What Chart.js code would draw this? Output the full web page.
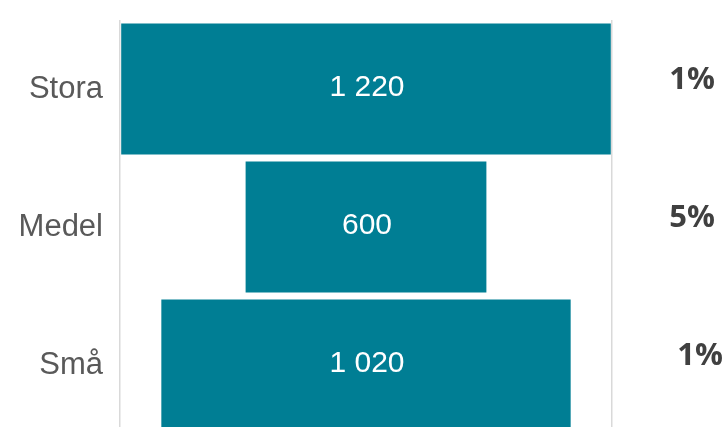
<!DOCTYPE html>
<html>
<head>
<meta charset="utf-8">
<script src="https://cdn.jsdelivr.net/npm/chart.js@4"></script>
<style>
html,body{margin:0;padding:0;overflow:hidden;background:#fff;}
canvas{display:block;}
</style>
</head>
<body>
<canvas id="c" width="726" height="440"></canvas>
<script>
const categories = ['Stora', 'Medel', 'Små'];
const values = [1220, 600, 1020];
const shares = ['1%', '5%', '1%'];
const axisLimit = 613;

const fmt = v => String(v).replace(/\B(?=(\d{3})+(?!\d))/g, ' ');

const labelPlugin = {
  id: 'labels',
  afterDatasetsDraw(chart) {
    const ctx = chart.ctx;
    const meta = chart.getDatasetMeta(0);
    const xs = chart.scales.x, ys = chart.scales.y;
    ctx.save();
    ctx.textAlign = 'center';
    ctx.textBaseline = 'middle';
    ctx.fillStyle = '#ffffff';
    ctx.font = '30px "Liberation Sans", Arial, sans-serif';
    meta.data.forEach((bar, i) => {
      ctx.fillText(fmt(values[i]), xs.getPixelForValue(0) + 1, ys.getPixelForValue(i) - 1);
    });
    ctx.fillStyle = '#404040';
    ctx.font = 'bold 31px "Open Sans", Lato, sans-serif';
    const dx = [80, 80, 88];
    shares.forEach((s, i) => {
      ctx.fillText(s, chart.chartArea.right + dx[i], ys.getPixelForValue(i) - 9);
    });
    ctx.restore();
  }
};

new Chart(document.getElementById('c'), {
  type: 'bar',
  data: {
    labels: categories,
    datasets: [{
      data: values.map(v => [-v / 2, v / 2]),
      backgroundColor: '#007e94',
      borderWidth: 0,
      categoryPercentage: 1,
      barPercentage: 0.95
    }]
  },
  options: {
    indexAxis: 'y',
    responsive: false,
    animation: false,
    layout: { padding: { top: 20, right: 114, bottom: 6, left: 0 } },
    plugins: { legend: { display: false }, tooltip: { enabled: false } },
    scales: {
      x: {
        min: -axisLimit, max: axisLimit,
        afterBuildTicks: s => { s.ticks = [{ value: -axisLimit }, { value: axisLimit }]; },
        ticks: { display: false },
        grid: { color: '#d9d9d9', lineWidth: 1.5, drawTicks: false },
        border: { display: false }
      },
      y: {
        afterFit: s => { s.width = 120; s.paddingTop = 0; s.paddingBottom = 0; },
        grid: { display: false, drawTicks: false },
        border: { display: false },
        ticks: { color: '#595959', padding: 17, font: { size: 31, family: '"Liberation Sans", Arial, sans-serif' } }
      }
    }
  },
  plugins: [labelPlugin]
});
</script>
</body>
</html>
